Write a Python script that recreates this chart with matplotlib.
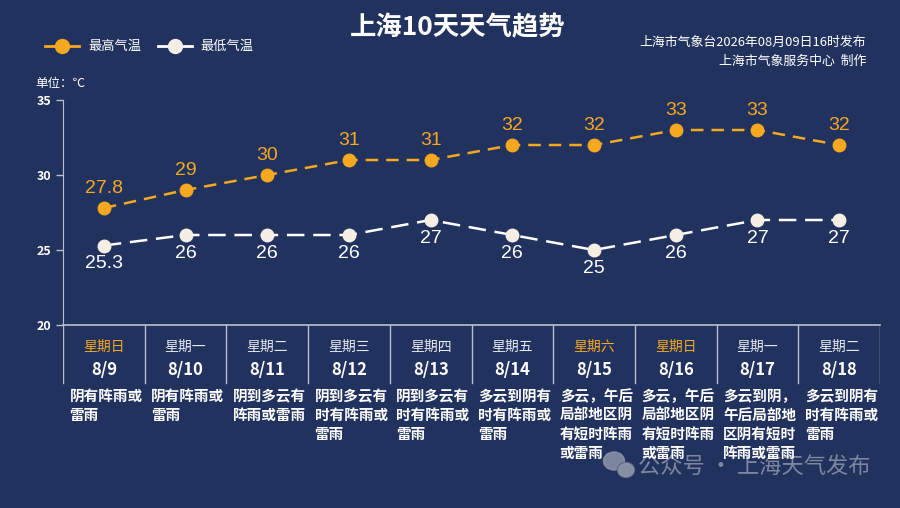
import matplotlib.pyplot as plt
from matplotlib.patches import Ellipse

plt.rcParams['font.family'] = ['Noto Sans CJK SC', 'DejaVu Sans']

# data
dates = ["8/9", "8/10", "8/11", "8/12", "8/13", "8/14", "8/15", "8/16", "8/17", "8/18"]
weekdays = ["星期日", "星期一", "星期二", "星期三", "星期四", "星期五", "星期六", "星期日", "星期一", "星期二"]
weekend = [True, False, False, False, False, False, True, True, False, False]
high_temp = [27.8, 29, 30, 31, 31, 32, 32, 33, 33, 32]
low_temp = [25.3, 26, 26, 26, 27, 26, 25, 26, 27, 27]
weather = [
    "阴有阵雨或雷雨",
    "阴有阵雨或雷雨",
    "阴到多云有阵雨或雷雨",
    "阴到多云有时有阵雨或雷雨",
    "阴到多云有时有阵雨或雷雨",
    "多云到阴有时有阵雨或雷雨",
    "多云，午后局部地区阴有短时阵雨或雷雨",
    "多云，午后局部地区阴有短时阵雨或雷雨",
    "多云到阴，午后局部地区阴有短时阵雨或雷雨",
    "多云到阴有时有阵雨或雷雨",
]

BG = "#22325f"
ORANGE = "#f6a81e"
CREAM = "#f4eee4"
GRID = "#b8bfcf"
W, H = 900, 508

fig = plt.figure(figsize=(W / 100, H / 100), dpi=100, facecolor=BG)

# overlay in pixel coords for legend, icon etc
ov = fig.add_axes([0, 0, 1, 1])
ov.set_xlim(0, W)
ov.set_ylim(H, 0)
ov.axis("off")

# main chart axes: x 63..880 px, y 100..325 px
ax = fig.add_axes([63 / W, 1 - 325 / H, (880 - 63) / W, 225 / H])
ax.set_facecolor("none")
x = list(range(len(dates)))
ax.plot(x, high_temp, color=ORANGE, lw=1.8, ls=(0, (5, 3.2)), marker="o",
        ms=9, mfc=ORANGE, mec=ORANGE, zorder=3)
ax.plot(x, low_temp, color="white", lw=1.8, ls=(0, (7, 3.5)), marker="o",
        ms=9, mfc=CREAM, mec=CREAM, zorder=3)
for i, v in enumerate(high_temp):
    ax.annotate(f"{v:g}", (i, v), xytext=(0, 8), textcoords="offset points",
                ha="center", va="bottom", color=ORANGE, fontsize=14,
                family=["Liberation Sans", "DejaVu Sans"])
for i, v in enumerate(low_temp):
    ax.annotate(f"{v:g}", (i, v), xytext=(0, -7), textcoords="offset points",
                ha="center", va="top", color="white", fontsize=14,
                family=["Liberation Sans", "DejaVu Sans"])

ax.set_xlim(-0.5, len(dates) - 0.5)
ax.set_ylim(20, 35)
ax.set_yticks([20, 25, 30, 35])
ax.set_xticks([])
ax.tick_params(axis="y", colors=GRID, length=5, width=1, labelcolor="white",
               labelsize=9)
for lab in ax.get_yticklabels():
    lab.set_fontweight("bold")
for s in ["top", "right"]:
    ax.spines[s].set_visible(False)
ax.spines["left"].set_color(GRID)
ax.spines["bottom"].set_color(GRID)
ax.spines["bottom"].set_linewidth(1.2)

# table below, pixel units from the x axis downward
tb = fig.add_axes([63 / W, 0, (880 - 63) / W, 1 - 325 / H])
tb.set_xlim(-0.5, len(dates) - 0.5)
tb.set_ylim(H - 325, 0)
tb.axis("off")
for i in range(len(dates) + 1):
    tb.plot([i - 0.5, i - 0.5], [0, 58], color=GRID, lw=1)
for i in range(len(dates)):
    c = ORANGE if weekend[i] else "#e6e9f0"
    tb.text(i, 22, weekdays[i], ha="center", va="center", color=c, fontsize=10)
    tb.text(i, 45, dates[i], ha="center", va="center", color="white",
            fontsize=12, fontweight="bold")
    txt = weather[i]
    lines = [txt[k:k + 5] for k in range(0, len(txt), 5)]
    for j, line in enumerate(lines):
        tb.text(i - 0.42, 71 + j * 19, line, ha="left", va="center",
                color="white", fontsize=10.5, fontweight="bold", zorder=3)

# titles and legend
ov.text(458, 28, "上海10天天气趋势", ha="center", va="center",
        color="white", fontsize=19, fontweight="bold")
ov.text(866, 42, "上海市气象台2026年08月09日16时发布", ha="right",
        va="center", color="white", fontsize=9.3)
ov.text(866, 61, "上海市气象服务中心  制作", ha="right",
        va="center", color="white", fontsize=9.3)
ov.text(35, 83, "单位：℃", ha="left", va="center", color="white", fontsize=9)

ov.plot([45, 79], [46, 46], color=ORANGE, lw=2)
ov.plot([62], [46], "o", color=ORANGE, ms=10)
ov.text(88, 46, "最高气温", va="center", color="white", fontsize=9.5)
ov.plot([158, 192], [46, 46], color="white", lw=2)
ov.plot([175], [46], "o", color=CREAM, ms=10)
ov.text(200, 46, "最低气温", va="center", color="white", fontsize=9.5)

# watermark
WM = "#8e96ab"
ov.add_patch(Ellipse((614, 461), 21, 18, color=WM, alpha=0.85, zorder=1))
ov.add_patch(Ellipse((626, 470), 17, 15, color="#5b6483", zorder=1))
ov.add_patch(Ellipse((626, 470), 15, 13, color=WM, alpha=0.85, zorder=1))
ov.text(870, 466, "公众号 · 上海天气发布", ha="right", va="center",
        color=WM, fontsize=16, alpha=0.85, zorder=1)

fig.savefig("out.png", dpi=100, facecolor=BG)
